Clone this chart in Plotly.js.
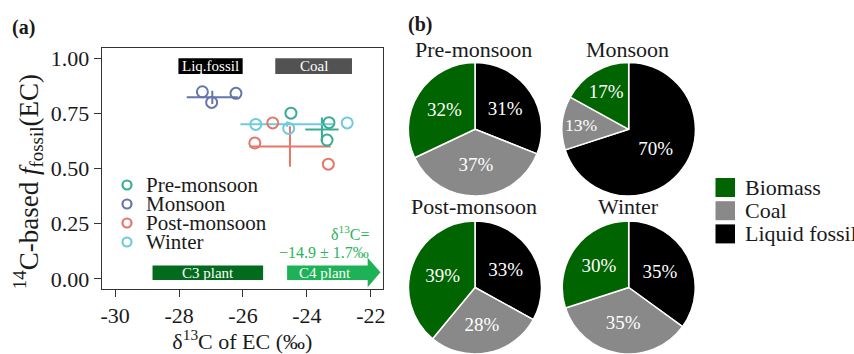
<!DOCTYPE html>
<html>
<head>
<meta charset="utf-8">
<script src="https://cdn.plot.ly/plotly-3.0.1.min.js"></script>
<style>html,body{margin:0;padding:0;background:#fff;}#chart{width:854px;height:354px;}</style>
</head>
<body>
<div id="chart"></div>
<script>
// ---------- data: panel (a) ----------
const seasons = ['Pre-monsoon', 'Monsoon', 'Post-monsoon', 'Winter'];
const seasonColors = ['#38ad94', '#6676aa', '#e6766a', '#70cade'];

const preX  = [-24.50, -23.31, -23.37];
const preY  = [0.751, 0.708, 0.629];
const monX  = [-27.27, -26.98, -26.22];
const monY  = [0.848, 0.800, 0.841];
const postX = [-25.63, -25.07, -23.33];
const postY = [0.616, 0.707, 0.520];
const winX  = [-25.60, -24.57, -22.74];
const winY  = [0.700, 0.682, 0.707];

const meanX = [-23.53, -26.96, -24.53, -24.62];
const meanY = [0.677, 0.823, 0.600, 0.701];
const sdX   = [0.52, 0.80, 1.27, 1.46];
const sdY   = [0.055, 0.030, 0.092, 0.012];

const xTickVals   = [-30, -28, -26, -24, -22];
const xTickLabels = ['-30', '-28', '-26', '-24', '-22'];
const yTickVals   = [0, 0.25, 0.5, 0.75, 1.0];

// ---------- data: panel (b) ----------
const sources = ['Biomass', 'Coal', 'Liquid fossil'];
const sourceColors = ['#006400', '#898989', '#000000'];
const pieSeasons = ['Pre-monsoon', 'Monsoon', 'Post-monsoon', 'Winter'];
const preShare  = [32, 37, 31];
const monShare  = [17, 13, 70];
const postShare = [39, 28, 33];
const winShare  = [30, 35, 35];

// ---------- build ----------
const W = 854, H = 354;
const FONT = 'Liberation Serif, Times New Roman, serif';
const TXT = '#1a1a1a';
const px = v => v / W;          // horizontal pixel -> paper
const py = v => 1 - v / H;      // vertical pixel -> paper

const ptsX = [preX, monX, postX, winX];
const ptsY = [preY, monY, postY, winY];

const traces = [];
// error crosses (mean ± sd)
seasons.forEach((s, i) => {
  traces.push({
    type: 'scatter', mode: 'markers', x: [meanX[i]], y: [meanY[i]],
    marker: {size: 1, opacity: 0, color: seasonColors[i]},
    error_x: {type: 'data', array: [sdX[i]], visible: true, width: 0, thickness: 2, color: seasonColors[i]},
    error_y: {type: 'data', array: [sdY[i]], visible: true, width: 0, thickness: 2, color: seasonColors[i]},
    showlegend: false, hoverinfo: 'skip', xaxis: 'x', yaxis: 'y'
  });
});
// sample points
seasons.forEach((s, i) => {
  traces.push({
    type: 'scatter', mode: 'markers', name: s, x: ptsX[i], y: ptsY[i],
    marker: {symbol: 'circle-open', size: 11, color: seasonColors[i], line: {width: 2, color: seasonColors[i]}},
    showlegend: false, xaxis: 'x', yaxis: 'y'
  });
});

// pies: slices drawn clockwise from 12 o'clock in this order
const sliceOrder = [2, 1, 0]; // Liquid fossil, Coal, Biomass
const shares = [preShare, monShare, postShare, winShare];
const pieBoxes = [ // [x0,x1,y0,y1] in pixels
  [408.3, 541.7, 62.6, 196.0],
  [562.0, 695.4, 62.6, 196.0],
  [408.3, 541.7, 221.0, 354.0],
  [562.0, 695.4, 221.0, 354.0]
];
shares.forEach((v, i) => {
  const b = pieBoxes[i];
  traces.push({
    type: 'pie',
    labels: sliceOrder.map(k => sources[k]),
    values: sliceOrder.map(k => v[k]),
    sort: false, direction: 'clockwise', rotation: 0,
    marker: {colors: sliceOrder.map(k => sourceColors[k]), line: {color: '#ffffff', width: 1.5}},
    texttemplate: '%{value}%', textposition: 'inside', insidetextorientation: 'horizontal',
    insidetextfont: {family: FONT, size: 19, color: '#ffffff'},
    domain: {x: [px(b[0]), px(b[1])], y: [py(b[3]), py(b[2])]},
    showlegend: false, hoverinfo: 'label+percent', name: pieSeasons[i]
  });
});

const shapes = [];
const annotations = [];

// source boxes in panel (a)
shapes.push({type: 'rect', xref: 'x', yref: 'y', x0: -28.02, x1: -26.01, y0: 0.929, y1: 1.0, fillcolor: '#000000', line: {width: 0}});
annotations.push({xref: 'x', yref: 'y', x: -27.015, y: 0.9645, text: 'Liq.fossil', showarrow: false, font: {family: FONT, size: 15, color: '#ffffff'}});
shapes.push({type: 'rect', xref: 'x', yref: 'y', x0: -24.99, x1: -22.59, y0: 0.929, y1: 1.0, fillcolor: '#525252', line: {width: 0}});
annotations.push({xref: 'x', yref: 'y', x: -23.79, y: 0.9645, text: 'Coal', showarrow: false, font: {family: FONT, size: 15, color: '#ffffff'}});

// C3 / C4 bars
shapes.push({type: 'rect', xref: 'x', yref: 'y', x0: -28.83, x1: -25.37, y0: -0.006, y1: 0.06, fillcolor: '#036b1d', line: {width: 0}});
annotations.push({xref: 'x', yref: 'y', x: -27.10, y: 0.027, text: 'C3 plant', showarrow: false, font: {family: FONT, size: 15, color: '#ffffff'}});
shapes.push({type: 'path', xref: 'x', yref: 'y',
  path: 'M -24.62 -0.006 L -22.10 -0.006 L -22.10 -0.038 L -21.70 0.030 L -22.10 0.096 L -22.10 0.06 L -24.62 0.06 Z',
  fillcolor: '#1eb257', line: {width: 0}});
annotations.push({xref: 'x', yref: 'y', x: -23.45, y: 0.027, text: 'C4 plant', showarrow: false, font: {family: FONT, size: 15, color: '#ffffff'}});
annotations.push({xref: 'x', yref: 'y', x: -22.0, y: 0.207, xanchor: 'right', text: 'δ<sup>13</sup>C=', showarrow: false, font: {family: FONT, size: 16, color: '#2ab45b'}});
annotations.push({xref: 'x', yref: 'y', x: -22.0, y: 0.121, xanchor: 'right', text: '−14.9 ± 1.7‰', showarrow: false, font: {family: FONT, size: 16, color: '#2ab45b'}});

// legend panel (a)
seasons.forEach((s, i) => {
  const yy = 185 + i * 19;
  shapes.push({type: 'circle', xref: 'paper', yref: 'paper', xsizemode: 'pixel', ysizemode: 'pixel',
    xanchor: px(127), yanchor: py(yy), x0: -4.5, x1: 4.5, y0: -4.5, y1: 4.5,
    line: {color: seasonColors[i], width: 2.2}, fillcolor: 'rgba(0,0,0,0)'});
  annotations.push({xref: 'paper', yref: 'paper', x: px(144), y: py(yy), xanchor: 'left', yanchor: 'middle',
    text: s, showarrow: false, font: {family: FONT, size: 21, color: TXT}});
});

// legend panel (b)
sources.forEach((s, i) => {
  const yy = 187.5 + i * 23.2;
  shapes.push({type: 'rect', xref: 'paper', yref: 'paper', x0: px(715.5), x1: px(735), y0: py(yy + 9.5), y1: py(yy - 9.5),
    fillcolor: sourceColors[i], line: {width: 0}});
  annotations.push({xref: 'paper', yref: 'paper', x: px(743), y: py(yy), xanchor: 'left', yanchor: 'middle',
    text: s, showarrow: false, font: {family: FONT, size: 22, color: TXT}});
});

// pie titles
const pieTitlePos = [[474, 49], [627, 49], [474, 206], [628, 206]];
pieSeasons.forEach((s, i) => {
  annotations.push({xref: 'paper', yref: 'paper', x: px(pieTitlePos[i][0]), y: py(pieTitlePos[i][1]),
    xanchor: 'center', yanchor: 'middle', text: s, showarrow: false, font: {family: FONT, size: 22, color: TXT}});
});

// panel labels
annotations.push({xref: 'paper', yref: 'paper', x: px(23.5), y: py(27), xanchor: 'center', yanchor: 'middle',
  text: '<b>(a)</b>', showarrow: false, font: {family: FONT, size: 20, color: TXT}});
annotations.push({xref: 'paper', yref: 'paper', x: px(420), y: py(24), xanchor: 'center', yanchor: 'middle',
  text: '<b>(b)</b>', showarrow: false, font: {family: FONT, size: 20, color: TXT}});

const layout = {
  width: W, height: H,
  margin: {l: 0, r: 0, t: 0, b: 0},
  paper_bgcolor: '#ffffff', plot_bgcolor: '#ffffff',
  showlegend: false,
  font: {family: FONT, color: TXT},
  xaxis: {
    domain: [px(101.7), px(383)], range: [-30.42, -21.62],
    tickvals: xTickVals, ticktext: xTickLabels,
    ticks: 'outside', ticklen: 7, tickwidth: 1, tickcolor: '#333',
    showline: true, mirror: true, linecolor: '#333', linewidth: 1,
    showgrid: false, zeroline: false,
    tickfont: {family: FONT, size: 22, color: TXT},
    title: {text: 'δ<sup>13</sup>C of EC (‰)', standoff: 23, font: {family: FONT, size: 22, color: TXT}}
  },
  yaxis: {
    domain: [py(288.5), py(47.7)], range: [-0.044, 1.048],
    tickvals: yTickVals, tickformat: '.2f',
    ticks: 'outside', ticklen: 7, tickwidth: 1, tickcolor: '#333',
    showline: true, mirror: true, linecolor: '#333', linewidth: 1,
    showgrid: false, zeroline: false,
    tickfont: {family: FONT, size: 22, color: TXT},
    title: {text: '<sup>14</sup>C-based <i>f</i><sub>fossil</sub>(EC)&nbsp;&nbsp;&nbsp;&nbsp;', font: {family: FONT, size: 27, color: TXT}}
  },
  shapes: shapes,
  annotations: annotations
};

Plotly.newPlot('chart', traces, layout, {displayModeBar: false, staticPlot: true});
</script>
</body>
</html>
